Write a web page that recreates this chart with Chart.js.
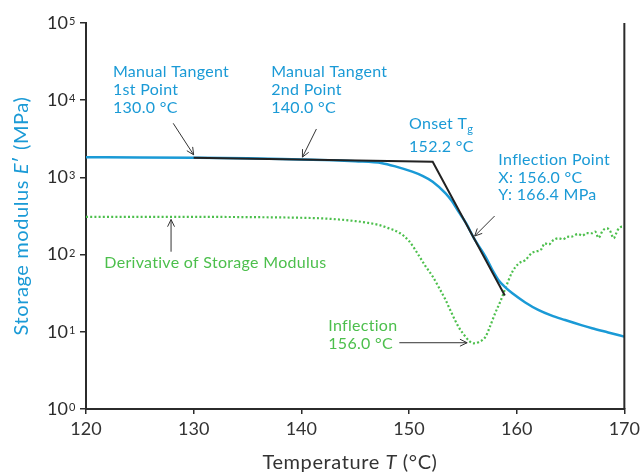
<!DOCTYPE html>
<html>
<head>
<meta charset="utf-8">
<script src="https://cdn.jsdelivr.net/npm/chart.js@4/dist/chart.umd.min.js"></script>
<style>
  html, body { margin: 0; padding: 0; background: #ffffff; }
  #wrap { width: 644px; height: 474px; }
</style>
</head>
<body>
<div id="wrap"><canvas id="c" width="644" height="474"></canvas></div>
<script>
// Axis ticks
const temperatureTicks = [120, 130, 140, 150, 160, 170];
const modulusTicks = [1, 10, 100, 1000, 10000, 100000];

// Storage modulus E' (MPa) versus temperature (°C)
const modulusT = [120, 125, 130, 135, 140, 143, 145, 147.5, 148.8, 150.3, 151.3, 152.2, 153.4, 154, 154.6, 155.3, 156,
                  156.5, 157.1, 157.7, 158.3, 159, 159.6, 160.8, 162, 163.2, 164.5, 166, 167, 168.5, 170];
const modulusE = [1820, 1815, 1800, 1770, 1706, 1670, 1620, 1530, 1380, 1186, 1040, 880, 622, 490, 360, 255, 166.4,
                  128, 94, 65, 47, 37, 31.5, 24, 19.2, 16.3, 14.2, 12.2, 11.1, 9.8, 8.65];

// Derivative of storage modulus
const derivT = [120, 125, 130, 135, 140, 142, 143.5, 145, 146, 147.2, 148, 149.1, 150, 150.9, 151.5, 152.2, 152.8,
                153.4, 154, 154.6, 155.2, 155.6, 156, 156.5, 157.1, 157.5, 158, 158.5, 158.9, 159.6, 160.2, 160.8,
                161.4, 161.7, 162.3, 162.6, 163, 163.3, 163.9, 164.3, 164.7, 165.1, 165.7, 166.1, 166.5, 167, 167.3,
                167.6, 168, 168.4, 168.7, 169, 169.4, 169.8, 170];
const derivV = [309, 309, 308, 306, 300, 294, 285, 272, 260, 242, 222, 192, 150, 98, 72, 52, 37,
                25.8, 17, 11.6, 8.8, 7.6, 7.1, 7.4, 8.6, 11.5, 17.4, 25, 35, 60, 77, 85,
                105, 109, 118, 140, 135, 150, 163, 158, 170, 171, 185, 176, 190, 189, 198,
                165, 205, 219, 200, 163, 210, 230, 225];

// Tangent construction: 1st point, onset Tg, end of steep tangent
const tangentT = [130, 152.2, 158.9];
const tangentE = [1800, 1597, 29.6];

const BLUE = '#1a9ad6';
const GREEN = '#4cbf4c';
const INK = '#2b2b2b';
const FONT = 'Lato, "Open Sans", sans-serif';

const pts = (xs, ys) => xs.map((x, i) => ({ x, y: ys[i] }));

// Callouts placed in data units (first-line baseline)
const blueNotes = [
  { x: 122.5, y: 19800, lines: ['Manual Tangent', '1st Point', '130.0 °C'] },
  { x: 137.2, y: 19800, lines: ['Manual Tangent', '2nd Point', '140.0 °C'] },
  { x: 158.3, y: 1448, lines: ['Inflection Point', 'X: 156.0 °C', 'Y: 166.4 MPa'] }
];
const greenNotes = [
  { x: 121.7, y: 66.5, lines: ['Derivative of Storage Modulus'] },
  { x: 142.5, y: 10.3, lines: ['Inflection', '156.0 °C'] }
];
const onsetNote = { x: 150.0, y: 4200 };
const arrows = [
  { from: [128.1, 5020], to: [130.0, 1960] },
  { from: [141.4, 4236], to: [140.1, 1830] },
  { from: [157.95, 316], to: [156.1, 174] },
  { from: [127.9, 109], to: [127.9, 285] },
  { from: [149.1, 7.22], to: [155.4, 7.22] }
];

function arrow(ctx, x1, y1, x2, y2) {
  const a = Math.atan2(y2 - y1, x2 - x1), L = 8, w = 0.45;
  ctx.beginPath();
  ctx.moveTo(x1, y1); ctx.lineTo(x2, y2);
  ctx.moveTo(x2 - L * Math.cos(a - w), y2 - L * Math.sin(a - w));
  ctx.lineTo(x2, y2);
  ctx.lineTo(x2 - L * Math.cos(a + w), y2 - L * Math.sin(a + w));
  ctx.stroke();
}

function drawRuns(ctx, runs, x, y, align) {
  let total = 0;
  runs.forEach(r => { ctx.font = r.font; total += ctx.measureText(r.text).width; });
  let cx = align === 'center' ? x - total / 2 : x;
  runs.forEach(r => {
    ctx.font = r.font;
    ctx.fillText(r.text, cx, y + (r.dy || 0));
    cx += ctx.measureText(r.text).width;
  });
}

const decor = {
  id: 'decor',
  afterDatasetsDraw(chart) {
    const { ctx, chartArea: ca, scales: { x, y } } = chart;
    ctx.save();
    // right frame line
    ctx.strokeStyle = INK; ctx.lineWidth = 2;
    ctx.beginPath(); ctx.moveTo(ca.right, ca.top); ctx.lineTo(ca.right, ca.bottom); ctx.stroke();

    // arrows
    ctx.lineWidth = 1; ctx.strokeStyle = '#333';
    arrows.forEach(a => arrow(ctx, x.getPixelForValue(a.from[0]), y.getPixelForValue(a.from[1]),
                                   x.getPixelForValue(a.to[0]), y.getPixelForValue(a.to[1])));

    // callout text
    ctx.textAlign = 'left'; ctx.textBaseline = 'alphabetic';
    ctx.letterSpacing = '0.3px';
    ctx.font = '16px ' + FONT;
    ctx.fillStyle = BLUE;
    blueNotes.forEach(n => n.lines.forEach((t, i) =>
      ctx.fillText(t, x.getPixelForValue(n.x), y.getPixelForValue(n.y) + i * 17.7)));
    ctx.fillStyle = GREEN;
    greenNotes.forEach(n => n.lines.forEach((t, i) =>
      ctx.fillText(t, x.getPixelForValue(n.x), y.getPixelForValue(n.y) + i * 17.7)));

    // Onset Tg
    ctx.fillStyle = BLUE;
    const ox = x.getPixelForValue(onsetNote.x), oy = y.getPixelForValue(onsetNote.y);
    drawRuns(ctx, [{ text: 'Onset T', font: '16px ' + FONT },
                   { text: 'g', font: '11px ' + FONT, dy: 4 }], ox, oy, 'left');
    ctx.font = '16px ' + FONT;
    ctx.fillText('152.2 °C', ox, oy + 22.4);
    ctx.letterSpacing = '0px';

    // y tick labels as powers of ten
    ctx.fillStyle = INK;
    modulusTicks.forEach(v => {
      const py = y.getPixelForValue(v);
      const exp = String(Math.round(Math.log10(v)));
      ctx.textBaseline = 'middle'; ctx.textAlign = 'right';
      ctx.font = '18px ' + FONT;
      ctx.fillText('10', 68, py);
      ctx.textAlign = 'left'; ctx.textBaseline = 'top';
      ctx.font = '11px ' + FONT;
      ctx.fillText(exp, 69, py - 7);
    });

    // axis titles
    ctx.textBaseline = 'middle'; ctx.textAlign = 'left';
    ctx.letterSpacing = '0.6px';
    ctx.fillStyle = '#333';
    drawRuns(ctx, [{ text: 'Temperature ', font: '20px ' + FONT },
                   { text: 'T', font: 'italic 20px ' + FONT },
                   { text: ' (°C)', font: '20px ' + FONT }], 350, 463, 'center');
    ctx.translate(22, (ca.top + ca.bottom) / 2);
    ctx.rotate(-Math.PI / 2);
    ctx.fillStyle = BLUE;
    drawRuns(ctx, [{ text: 'Storage modulus ', font: '20px ' + FONT },
                   { text: 'E', font: 'italic 20px ' + FONT },
                   { text: '′ (MPa)', font: '20px ' + FONT }], 0, 0, 'center');
    ctx.restore();
  }
};

new Chart(document.getElementById('c'), {
  type: 'line',
  data: {
    datasets: [
      { label: 'Tangent', data: pts(tangentT, tangentE), borderColor: '#222',
        borderWidth: 2, pointRadius: 0, tension: 0, fill: false },
      { label: "Storage modulus E'", data: pts(modulusT, modulusE), borderColor: BLUE,
        borderWidth: 2.5, pointRadius: 0, cubicInterpolationMode: 'monotone', fill: false },
      { label: 'Derivative of Storage Modulus', data: pts(derivT, derivV), borderColor: GREEN,
        borderWidth: 2.2, borderDash: [2, 2.2], pointRadius: 0, cubicInterpolationMode: 'monotone', fill: false }
    ]
  },
  options: {
    responsive: false,
    devicePixelRatio: 1,
    animation: false,
    layout: { padding: { top: 23, right: 18, left: 0, bottom: 0 } },
    plugins: { legend: { display: false }, tooltip: { enabled: false } },
    scales: {
      x: {
        type: 'linear', min: 120, max: 170,
        afterBuildTicks: s => { s.ticks = temperatureTicks.map(v => ({ value: v })); },
        afterFit: s => { s.height = 65; },
        grid: { drawOnChartArea: false, drawTicks: true, tickLength: 5, color: INK, lineWidth: 1.5 },
        border: { display: true, color: INK, width: 2 },
        ticks: { color: '#333', font: { family: FONT, size: 18 }, padding: 4, maxRotation: 0 }
      },
      y: {
        type: 'logarithmic', min: 1, max: 100000,
        afterBuildTicks: s => { s.ticks = modulusTicks.map(v => ({ value: v })); },
        afterFit: s => { s.width = 86; },
        grid: { drawOnChartArea: false, drawTicks: true, tickLength: 6, color: INK, lineWidth: 1.5 },
        border: { display: true, color: INK, width: 2 },
        ticks: { callback: () => '', padding: 0 }
      }
    }
  },
  plugins: [decor]
});
</script>
</body>
</html>
